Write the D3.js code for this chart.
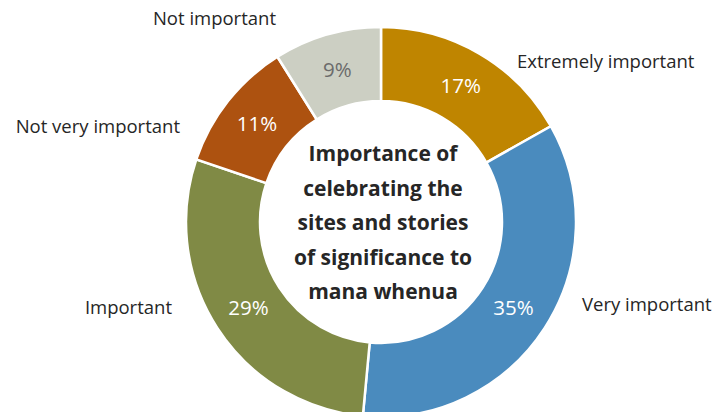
<!DOCTYPE html>
<html>
<head>
<meta charset="utf-8">
<script src="https://cdn.jsdelivr.net/npm/d3@7"></script>
<style>
  body { margin: 0; background: #fff; }
  svg { display: block; font-family: "Open Sans", sans-serif; }
</style>
</head>
<body>
<script>
// data
const categories = ['Extremely important', 'Very important', 'Important', 'Not very important', 'Not important'];
const shares = [17, 35, 29, 11, 9];
const sliceColors = ['#bf8500', '#4a8bbe', '#808a45', '#ad5210', '#cccfc3'];
const valueColors = ['#fff', '#fff', '#fff', '#fff', '#6b6b6b'];
const titleLines = ['Importance of', 'celebrating the', 'sites and stories', 'of significance to', 'mana whenua'];

// layout for outside category labels (offset from centre, anchor)
const labelLayout = [
    { dx: 136, dy: -154, anchor: 'start' },
    { dx: 201, dy: 89, anchor: 'start' },
    { dx: -209, dy: 92, anchor: 'end' },
    { dx: -201, dy: -89, anchor: 'end' },
    { dx: -105, dy: -197, anchor: 'end' }
];

const width = 716,
    height = 412;

const cx = 381,
    cy = 222,
    outerR = 195,
    innerR = 121;

const svg = d3.select('body')
    .append('svg')
    .attr('width', width)
    .attr('height', height);

const g = svg.append('g')
    .attr('transform', 'translate(' + cx + ',' + cy + ')');

const pie = d3.pie()
    .sort(null)
    .value(d => d.value);

const arc = d3.arc()
    .innerRadius(innerR)
    .outerRadius(outerR);

const slices = pie(categories.map((c, i) => ({ name: c, value: shares[i], i: i })));

g.selectAll('path.slice')
    .data(slices)
    .enter()
    .append('path')
    .attr('class', 'slice')
    .attr('d', arc)
    .attr('fill', d => sliceColors[d.data.i])
    .attr('stroke', '#fff')
    .attr('stroke-width', 2.5);

// percentage labels at slice centroid
g.selectAll('text.pct')
    .data(slices)
    .enter()
    .append('text')
    .attr('class', 'pct')
    .attr('x', d => arc.centroid(d)[0])
    .attr('y', d => arc.centroid(d)[1])
    .attr('dy', '0.35em')
    .attr('text-anchor', 'middle')
    .attr('font-size', 20.5)
    .attr('fill', d => valueColors[d.data.i])
    .text(d => d.data.value + '%');

// category labels
g.selectAll('text.cat')
    .data(slices)
    .enter()
    .append('text')
    .attr('class', 'cat')
    .attr('x', d => labelLayout[d.data.i].dx)
    .attr('y', d => labelLayout[d.data.i].dy)
    .attr('text-anchor', d => labelLayout[d.data.i].anchor)
    .attr('font-size', 18.5)
    .attr('fill', '#262626')
    .text(d => d.data.name);

// centre title
const lineH = 34.5;
g.append('text')
    .attr('text-anchor', 'middle')
    .attr('font-size', 21)
    .attr('font-weight', 'bold')
    .attr('fill', '#262626')
    .selectAll('tspan')
    .data(titleLines)
    .enter()
    .append('tspan')
    .attr('x', 2)
    .attr('y', (d, i) => -61 + i * lineH)
    .text(d => d);
</script>
</body>
</html>
